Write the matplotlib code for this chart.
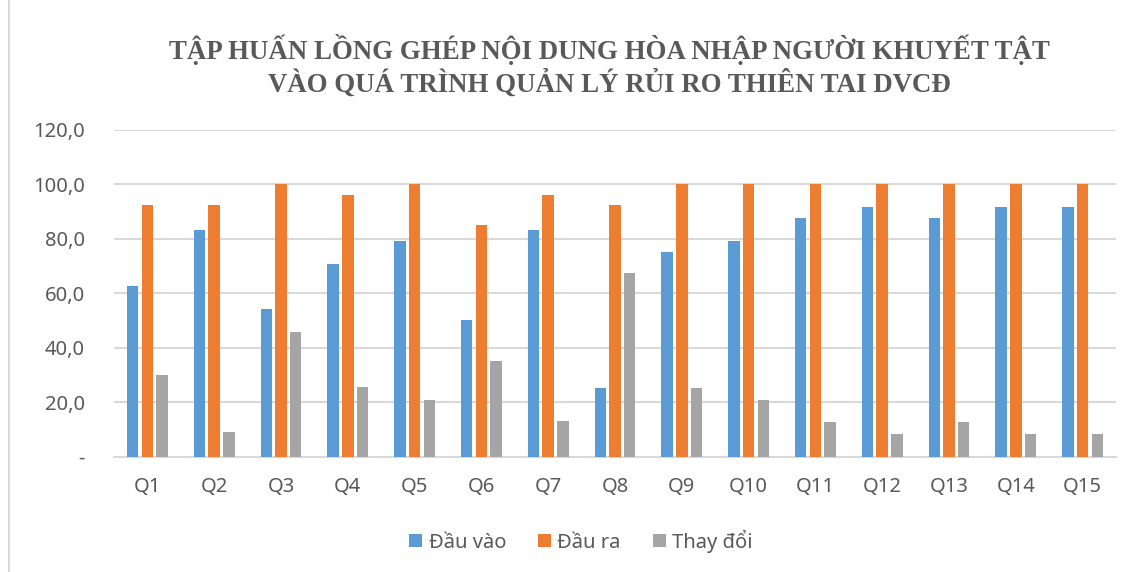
import numpy as np
import matplotlib
matplotlib.use("Agg")
import matplotlib.pyplot as plt
from matplotlib.ticker import FuncFormatter, MultipleLocator

# data
categories = [f"Q{i}" for i in range(1, 16)]
dau_vao = [62.5, 83.3, 54.2, 70.8, 79.2, 50.0, 83.3, 25.0, 75.0, 79.2, 87.5, 91.7, 87.5, 91.7, 91.7]
dau_ra = [92.3, 92.3, 100.0, 96.2, 100.0, 85.0, 96.2, 92.3, 100.0, 100.0, 100.0, 100.0, 100.0, 100.0, 100.0]
thay_doi = [29.8, 9.0, 45.8, 25.4, 20.8, 35.0, 12.9, 67.3, 25.0, 20.8, 12.5, 8.3, 12.5, 8.3, 8.3]
series_names = ["Đầu vào", "Đầu ra", "Thay đổi"]
title = ("TẬP HUẤN LỒNG GHÉP NỘI DUNG HÒA NHẬP NGƯỜI KHUYẾT TẬT\n"
         "VÀO QUÁ TRÌNH QUẢN LÝ RỦI RO THIÊN TAI DVCĐ")

colors = ["#5B9BD5", "#ED7D31", "#A5A5A5"]
text_col = "#595959"
grid_col = "#D9D9D9"
sans = ["Noto Sans", "DejaVu Sans"]

plt.rcParams["font.family"] = sans

W, H = 1135, 572
fig = plt.figure(figsize=(W / 100, H / 100), dpi=100)
ax = fig.add_axes([114 / W, 1 - 456.5 / H, (1116 - 114) / W, (456.5 - 130) / H])

x = np.arange(len(categories))
bw = 0.172
step = 0.22
for i, (vals, name) in enumerate(zip([dau_vao, dau_ra, thay_doi], series_names)):
    ax.bar(x + (i - 1) * step, vals, bw, color=colors[i], label=name, zorder=3)

ax.set_xlim(-0.5, len(categories) - 0.5)
ax.set_ylim(0, 120)
ax.yaxis.set_major_locator(MultipleLocator(20))
ax.yaxis.set_major_formatter(FuncFormatter(
    lambda v, p: "-" if abs(v) < 1e-9 else f"{v:.1f}".replace(".", ",")))
ax.grid(axis="y", color=grid_col, linewidth=1.5, zorder=0)
ax.set_axisbelow(True)
for s in ["top", "right", "left"]:
    ax.spines[s].set_visible(False)
ax.spines["bottom"].set_color(grid_col)
ax.spines["bottom"].set_linewidth(1.5)
ax.tick_params(axis="both", length=0, labelsize=14.5, colors=text_col)
ax.tick_params(axis="y", pad=21)
ax.tick_params(axis="x", pad=15)
ax.set_xticks(x)
ax.set_xticklabels(categories)

fig.text(609 / W, 1 - 66 / H, title, ha="center", va="center",
         family="Liberation Serif", fontweight="bold", fontsize=19.4,
         color=text_col, linespacing=1.2)

leg = fig.legend(loc="center", bbox_to_anchor=(581 / W, 1 - 541 / H), ncol=3,
                 frameon=False, fontsize=14.5, handlelength=0.65, handleheight=0.65,
                 handletextpad=0.3, columnspacing=1.6)
for t in leg.get_texts():
    t.set_color(text_col)

# chart frame edge on the left
fig.add_artist(plt.Line2D([8.5 / W, 8.5 / W], [0, 1], transform=fig.transFigure,
                          color=grid_col, linewidth=1.5))

fig.savefig("out.png", dpi=100)
